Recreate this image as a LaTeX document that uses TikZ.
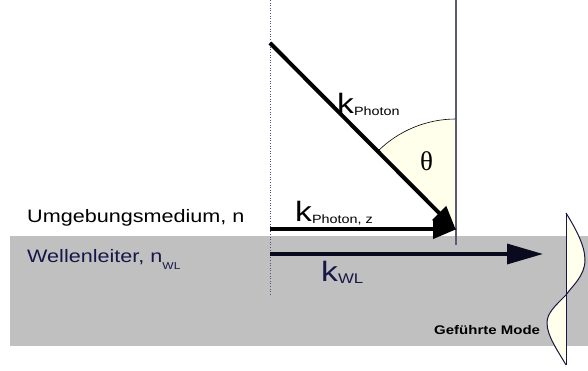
\documentclass[tikz,border=0pt]{standalone}
\usepackage{fontspec}
\setmainfont[FakeStretch=1.2]{Liberation Sans}
\newfontfamily\thetafont{Liberation Serif}
\usetikzlibrary{arrows.meta}
\definecolor{band}{RGB}{192,192,192}
\definecolor{navy}{RGB}{22,22,72}
\definecolor{darkline}{RGB}{10,10,30}
\definecolor{sector}{RGB}{255,255,236}
\definecolor{axis}{RGB}{90,90,115}
\definecolor{dotc}{RGB}{80,80,130}
\tikzset{
  thickarrow/.style={line width=4pt, -{Triangle[length=24pt,width=19pt]}},
  wlarrow/.style={line width=3.4pt, color=darkline, -{Triangle[length=36pt,width=20pt]}},
  lbl/.style={inner sep=0pt, anchor=base west},
}
\newcommand{\bigk}{\fontsize{28}{28}\selectfont k}
\newcommand{\subtxt}[1]{{\fontsize{12}{12}\selectfont\raisebox{-2pt}{#1}}}
\begin{document}
\begin{tikzpicture}[x=1pt,y=1pt]
\useasboundingbox (0,0) rectangle (588,371);
% waveguide band
\fill[band] (10,25) rectangle (588,135);
% reference lines
\coordinate (dtop) at (270,371);
\coordinate (dbot) at (270,77);
\draw[dotc, dotted, line width=0.6pt] (dtop) -- (dbot);
\coordinate (vtop) at (456,371);
\coordinate (vbot) at (456,126);
% angle sector
\coordinate (pe) at (456,141);
\fill[sector] (pe) -- ++(134.8:111) arc[start angle=134.8, end angle=90, radius=111] -- cycle;
\draw[line width=0.6pt] (pe) ++(134.8:111) arc[start angle=134.8, end angle=90, radius=111];
\draw[axis, line width=1.5pt] (vtop) -- (vbot);
% arrows
\coordinate (ps) at (270,328);
\draw[thickarrow] (ps) -- (pe);
\coordinate (zs) at (270,142);
\coordinate (ze) at (457,142);
\draw[thickarrow] (zs) -- (ze);
\coordinate (ws) at (270,117);
\coordinate (we) at (543,117);
\draw[wlarrow] (ws) -- (we);
% labels
\node[lbl] (kph) at (337,257) {\bigk\subtxt{Photon}};
\node[lbl] (kphz) at (295,149) {\bigk\subtxt{Photon, z}};
\node[lbl, text=navy] (kwl) at (321,89) {\bigk{\fontsize{14}{14}\selectfont\raisebox{-2pt}{WL}}};
\node[lbl] (theta) at (420,200) {\thetafont\fontsize{27}{27}\selectfont θ};
\node[lbl] (umg) at (27,148) {\fontsize{18}{18}\selectfont Umgebungsmedium, n};
\node[lbl, text=navy] (wl) at (27,108) {\fontsize{18}{18}\selectfont Wellenleiter, n{\fontsize{10}{10}\selectfont\raisebox{-7pt}{WL}}};
\node[lbl] (mode) at (434,36) {\fontsize{12.5}{12.5}\selectfont\bfseries Geführte Mode};
% mode profile
\coordinate (mtop) at (566,158);
\coordinate (mbot) at (566,6);
\fill[sector] (mtop) .. controls (576,142) and (585,125) .. (585,111)
  .. controls (585,95) and (572,85) .. (566,76)
  .. controls (555,65) and (547,58) .. (547,48)
  .. controls (547,35) and (558,20) .. (mbot) -- cycle;
\draw[navy, line width=0.8pt] (mtop) -- (mbot);
\draw[navy, line width=1pt] (mtop) .. controls (576,142) and (585,125) .. (585,111)
  .. controls (585,95) and (572,85) .. (566,76)
  .. controls (555,65) and (547,58) .. (547,48)
  .. controls (547,35) and (558,20) .. (mbot);
\end{tikzpicture}
\end{document}
